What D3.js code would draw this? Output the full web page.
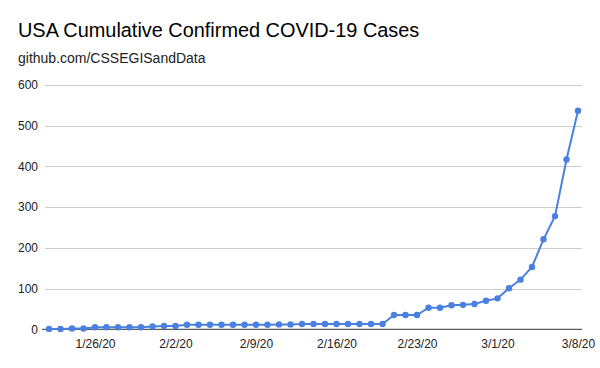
<!DOCTYPE html>
<html><head><meta charset="utf-8">
<script src="https://cdn.jsdelivr.net/npm/d3@7"></script>
<style>body{margin:0;background:#fff}svg{display:block}</style>
</head><body>
<svg id="c" width="600" height="368"></svg>
<script>
const dates = ["1/22/20","1/23/20","1/24/20","1/25/20","1/26/20","1/27/20","1/28/20","1/29/20","1/30/20","1/31/20",
"2/1/20","2/2/20","2/3/20","2/4/20","2/5/20","2/6/20","2/7/20","2/8/20","2/9/20","2/10/20","2/11/20","2/12/20","2/13/20","2/14/20","2/15/20","2/16/20","2/17/20","2/18/20","2/19/20","2/20/20","2/21/20","2/22/20","2/23/20","2/24/20","2/25/20","2/26/20","2/27/20","2/28/20","2/29/20",
"3/1/20","3/2/20","3/3/20","3/4/20","3/5/20","3/6/20","3/7/20","3/8/20"];
const cases = [1,1,2,2,5,5,5,5,5,7,8,8,11,11,11,11,11,11,11,11,12,12,13,13,13,13,13,13,13,13,35,35,35,53,53,59,60,62,70,76,101,122,153,221,278,417,537];
const xTickLabels = ["1/26/20","2/2/20","2/9/20","2/16/20","2/23/20","3/1/20","3/8/20"];
const yTicks = [0,100,200,300,400,500,600];

const svg = d3.select("#c");
const font = "'Liberation Sans', Arial, sans-serif";
const x = d3.scalePoint().domain(dates).range([49, 578]);
const y = d3.scaleLinear().domain([0, 600]).range([329.3, 85]);

svg.append("text").attr("x",18).attr("y",37).attr("font-family",font).attr("font-size",19.9).attr("fill","#000")
  .text("USA Cumulative Confirmed COVID-19 Cases");
svg.append("text").attr("x",18).attr("y",63).attr("font-family",font).attr("font-size",14).attr("fill","#222")
  .text("github.com/CSSEGISandData");

// grid
const yAxis = d3.axisLeft(y).tickValues(yTicks).tickSize(0).tickPadding(7);
const gy = svg.append("g").attr("transform","translate(45,0)").call(yAxis);
gy.select(".domain").remove();
gy.selectAll("text").attr("font-family",font).attr("font-size",12).attr("fill","#222").attr("x",-7);
svg.append("g").selectAll("line").data(yTicks.filter(d=>d>0)).join("line")
  .attr("x1",45).attr("x2",582).attr("y1",d=>Math.round(y(d))+0.5).attr("y2",d=>Math.round(y(d))+0.5)
  .attr("stroke","#ccc").attr("stroke-width",1);

const xAxis = d3.axisBottom(x).tickValues(xTickLabels).tickSize(0).tickPadding(10);
const gx = svg.append("g").attr("transform",`translate(0,${y(0)})`).call(xAxis);
gx.select(".domain").remove();
gx.selectAll("text").attr("font-family",font).attr("font-size",12).attr("fill","#222");
svg.append("line").attr("x1",42).attr("x2",582).attr("y1",y(0)).attr("y2",y(0)).attr("stroke","#333").attr("stroke-width",1);

const line = d3.line().x((d,i)=>x(dates[i])).y(d=>y(d));
svg.append("path").datum(cases).attr("d",line).attr("fill","none").attr("stroke","#4a80e0").attr("stroke-width",2);
svg.append("g").selectAll("circle").data(cases).join("circle")
  .attr("cx",(d,i)=>x(dates[i])).attr("cy",d=>y(d)).attr("r",3.2).attr("fill","#4a80e0");
</script>
</body></html>
